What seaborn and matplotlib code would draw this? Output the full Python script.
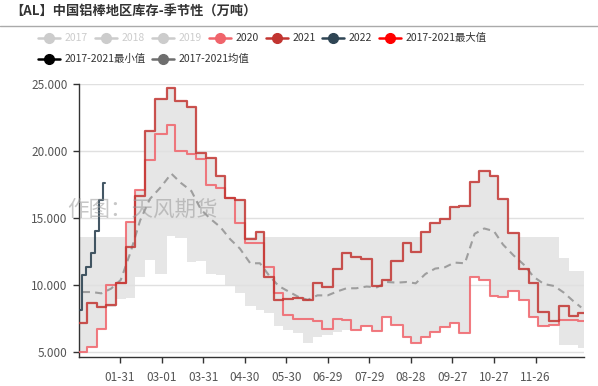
import numpy as np
import pandas as pd
import matplotlib
matplotlib.use("Agg")
import matplotlib.pyplot as plt
from matplotlib.lines import Line2D
import seaborn as sns

# ── Data (day of year in a 366-day template, values in 万吨) ────────────
week_start = [0, 6, 13, 20, 27, 34, 41, 48, 55, 64, 70, 78, 85, 92, 99, 106,
              113, 120, 128, 134, 141, 148, 155, 162, 169, 176, 184, 190, 197,
              204, 212, 219, 226, 234, 240, 247, 254, 261, 268, 275, 283, 289,
              297, 303, 310, 318, 325, 332, 340, 347, 354, 361]

y2021 = [7.1, 8.6, 8.3, 8.46, 10.1, 12.85, 16.6, 21.45, 23.9, 24.7,
         23.7, 23.3, 19.87, 19.45, 18.1, 16.5, 16.3, 13.4, 13.9, 10.55,
         8.86, 8.9, 8.98, 8.85, 10.15, 9.8, 11.15, 12.4, 12.1, 11.95,
         9.9, 10.35, 11.8, 13.1, 12.47, 13.9, 14.6, 14.9, 15.8, 15.85,
         17.7, 18.5, 18.1, 16.4, 13.85, 11.2, 10.1, 7.95, 7.3, 8.4,
         7.65, 7.9]

y2020 = [5.0, 5.35, 6.65, 10.0, 10.1, 14.7, 17.1, 19.3, 21.25, 21.9,
         20.0, 19.8, 19.4, 17.45, 17.2, 16.5, 14.6, 13.1, 13.1, 11.3,
         9.36, 7.74, 7.42, 7.42, 7.3, 6.67, 7.42, 7.35, 6.6, 6.9,
         6.57, 7.6, 7.0, 6.12, 5.67, 6.12, 6.45, 6.8, 7.17, 6.37,
         10.6, 10.36, 9.16, 9.1, 9.56, 8.86, 7.57, 6.92, 7.0, 7.35,
         7.37, 7.3]

max_17_21 = [13.6, 13.6, 13.6, 13.6, 13.6, 14.7, 17.1, 21.45, 23.9, 24.7,
             23.7, 23.3, 19.87, 19.45, 18.1, 16.5, 16.3, 13.6, 13.9, 13.6,
             13.6, 13.6, 13.6, 13.6, 13.6, 13.6, 13.6, 13.6, 13.6, 13.6,
             13.6, 13.6, 13.6, 13.6, 13.6, 13.9, 14.6, 14.9, 15.8, 15.85,
             17.7, 18.5, 18.1, 16.4, 13.85, 13.6, 13.6, 13.6, 13.6, 12.0,
             11.0, 11.0]

min_17_21 = [5.0, 5.35, 6.65, 8.3, 8.9, 9.0, 10.6, 11.85, 10.8, 13.64,
             13.47, 11.72, 11.8, 10.8, 10.7, 10.0, 9.4, 8.4, 8.1, 7.9,
             6.9, 6.6, 6.4, 5.65, 6.1, 6.25, 6.45, 6.6, 6.6, 6.9,
             6.57, 7.6, 7.0, 6.12, 5.67, 6.12, 6.45, 6.8, 7.17, 6.37,
             10.6, 10.36, 9.16, 9.1, 9.56, 8.86, 7.57, 6.92, 7.0, 5.5,
             5.5, 5.25]

avg_17_21 = [9.45, 9.45, 9.35, 9.7, 10.35, 12.4, 14.8, 16.4, 17.3, 18.3,
             17.6, 17.0, 15.6, 14.9, 14.3, 13.4, 12.7, 11.6, 11.6, 10.7,
             9.9, 9.5, 9.1, 8.86, 9.2, 9.2, 9.5, 9.73, 9.73, 9.86,
             9.8, 10.2, 10.15, 10.2, 10.1, 10.8, 11.2, 11.3, 11.65, 11.6,
             13.8, 14.2, 14.0, 13.0, 12.2, 11.5, 10.6, 10.05, 9.9, 9.4,
             8.75, 8.3]

days_2022 = [1, 2.5, 5.5, 9, 12, 15, 17.5, 19]
y2022 = [8.1, 10.7, 11.35, 12.4, 14.0, 16.3, 17.6, 17.6]

tick_days = [30, 60, 90, 120, 150, 180, 210, 240, 270, 300, 330]
tick_labels = ["01-31", "03-01", "03-31", "04-30", "05-30", "06-29",
               "07-29", "08-28", "09-27", "10-27", "11-26"]
y_ticks = [5, 10, 15, 20, 25]

TITLE = "【AL】中国铝棒地区库存-季节性（万吨）"
legend_names = ["2017", "2018", "2019", "2020", "2021", "2022",
                "2017-2021最大值", "2017-2021最小值", "2017-2021均值"]

# ── Style ───────────────────────────────────────────────────────────────
C2020 = "#f0646b"
C2021 = "#c23531"
C2022 = "#2f4554"
CMEAN = "#6e6e6e"
LEG_COLORS = ["#cccccc", "#cccccc", "#cccccc", C2020, C2021, C2022,
              "#ff0000", "#000000", CMEAN]
LEG_ACTIVE = [False, False, False, True, True, True, True, True, True]

sns.set_theme(style="white")
plt.rcParams["font.family"] = ["Noto Sans CJK SC", "DejaVu Sans"]

W, H = 598, 386
fig = plt.figure(figsize=(W / 100, H / 100), dpi=100)
ax = fig.add_axes([78.5 / W, 1 - 357.3 / H, 505.5 / W, (357.3 - 84) / H])

# step series need a closing point at the year end
x_step = week_start + [365]


def close(vals):
    return list(vals) + [vals[-1]]


ends = np.array(week_start[1:] + [365])
x_mid = (np.array(week_start) + ends) / 2

ax.fill_between(x_step, close(min_17_21), close(max_17_21), step="post",
                color="#e6e6e6", linewidth=0, zorder=1)
for yt in y_ticks:
    ax.axhline(yt, color="#e0e0e0", linewidth=1, zorder=1.2)

sns.lineplot(x=x_mid, y=avg_17_21, ax=ax, color=CMEAN, alpha=0.6,
             linewidth=1.5, linestyle="--", sort=False, estimator=None, zorder=3)
ax.lines[-1].set_dashes([3.5, 2.5])
sns.lineplot(x=x_step, y=close(y2020), ax=ax, color=C2020, alpha=0.85,
             linewidth=1.5, drawstyle="steps-post", sort=False,
             estimator=None, zorder=4)
sns.lineplot(x=x_step, y=close(y2021), ax=ax, color=C2021, alpha=0.85,
             linewidth=1.6, drawstyle="steps-post", sort=False,
             estimator=None, zorder=5)
sns.lineplot(x=days_2022, y=y2022, ax=ax, color=C2022, alpha=0.9,
             linewidth=1.5, drawstyle="steps-post", sort=False,
             estimator=None, zorder=6)

ax.set_xlim(0, 365)
ax.set_ylim(4.57, 25)
ax.set_xticks(tick_days)
ax.set_xticklabels(tick_labels)
ax.set_yticks(y_ticks)
ax.set_yticklabels([f"{v:.3f}" for v in y_ticks])
ax.set_xlabel("")
ax.set_ylabel("")
ax.tick_params(axis="both", direction="out", length=4, width=1,
               color="#333333", labelcolor="#555555", labelsize=8.5, pad=4)
ax.tick_params(axis="x", pad=6)
ax.tick_params(axis="y", left=True)
ax.tick_params(axis="x", bottom=True)
for side in ["top", "right"]:
    ax.spines[side].set_visible(False)
for side in ["left", "bottom"]:
    ax.spines[side].set_color("#333333")
    ax.spines[side].set_linewidth(1)
ax.grid(False)

# watermark
fig.text(67 / W, 1 - 210 / H, "作图：天风期货", fontsize=15.5, color="#999999",
         alpha=0.55, va="center", ha="left", zorder=10)

# title + separator
fig.text(10 / W, 1 - 12 / H, TITLE, fontsize=9.5, color="#333333",
         va="center", ha="left", fontweight="bold")
fig.add_artist(Line2D([0, 1], [1 - 25.7 / H] * 2, transform=fig.transFigure,
                      color="#aaaaaa", linewidth=1))

# legend (flow layout like the original)
leg_pos = [(49, 37.7), (106, 37.7), (163, 37.7), (220, 37.7), (277, 37.7),
           (333, 37.7), (390, 37.7), (49, 59), (163, 59)]
for name, col, active, (cx, cy) in zip(legend_names, LEG_COLORS, LEG_ACTIVE, leg_pos):
    fy = 1 - cy / H
    fig.add_artist(Line2D([(cx - 11) / W, (cx + 11) / W], [fy, fy],
                          transform=fig.transFigure, color=col, linewidth=1.8))
    fig.add_artist(Line2D([cx / W], [fy], transform=fig.transFigure,
                          marker="o", markersize=7, color=col,
                          markeredgecolor=col, linestyle="none"))
    fig.text((cx + 16) / W, fy, name, fontsize=7.5, va="center", ha="left",
             color="#333333" if active else "#cccccc")

fig.savefig("out.png", dpi=100)
